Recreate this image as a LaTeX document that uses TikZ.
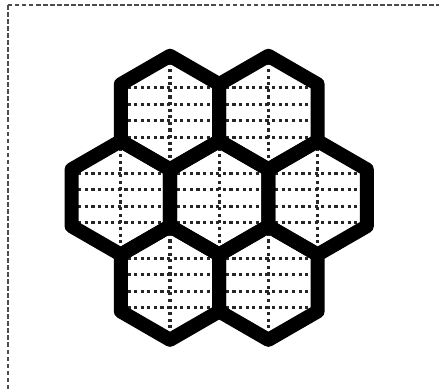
\documentclass[tikz,border=0pt]{standalone}
\usepackage{tikz}
\usetikzlibrary{
    calc
}
\tikzstyle{frame} = [
    draw=black!70,
    line width=0.75pt,
    dash pattern=on 3.4pt off 1.6pt
]
\tikzstyle{gridline} = [
    draw=black!85,
    line width=2.2pt,
    dash pattern=on 2.2pt off 2.5pt
]
\tikzstyle{hexwall} = [
    draw=black,
    line width=10pt,
    line join=round
]

\begin{document}
\begin{tikzpicture}[x=0.025cm, y=-0.025cm]
    % Page area
    \clip (0,0) rectangle (439,392);
    \useasboundingbox (0,0) rectangle (439,392);
    \draw[frame] (8,5) rectangle (460,420);

    % Dotted grid inside each cell
    \foreach \cx/\cy/\nm in {170/112.6/tl, 268.4/112.6/tr,
                             120.8/197.8/ml, 219.2/197.8/mc, 317.6/197.8/mr,
                             170/283/bl, 268.4/283/br} {
        \coordinate (\nm) at (\cx,\cy);
        \foreach \dy in {-24.75,-8.25,8.25,24.75}
            \draw[gridline] ($(\nm)+(-49.2,\dy)$) -- ($(\nm)+(49.2,\dy)$);
        \draw[gridline] ($(\nm)+(0,-56.8)$) -- ($(\nm)+(0,56.8)$);
    }

    % Cell walls
    \foreach \nm in {tl,tr,ml,mc,mr,bl,br}
        \draw[hexwall] ($(\nm)+(90:56.8)$) -- ($(\nm)+(150:56.8)$)
            -- ($(\nm)+(210:56.8)$) -- ($(\nm)+(270:56.8)$)
            -- ($(\nm)+(330:56.8)$) -- ($(\nm)+(30:56.8)$) -- cycle;
\end{tikzpicture}
\end{document}
